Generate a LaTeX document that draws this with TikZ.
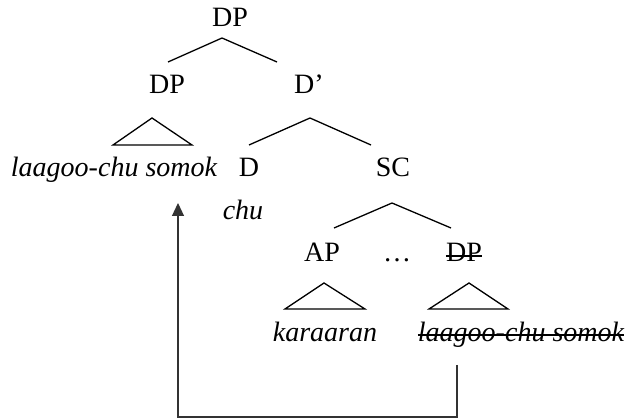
\documentclass[tikz,border=0pt]{standalone}
\usepackage{fontspec}
\setmainfont{Liberation Serif}
\usetikzlibrary{arrows.meta}
\begin{document}
\begin{tikzpicture}[x=1pt,y=-1pt,
  lbl/.style={anchor=base,inner sep=0pt,font=\fontsize{28}{32}\selectfont},
  wrd/.style={lbl,font=\fontsize{28}{32}\selectfont\itshape},
  br/.style={line width=1.3pt,black},
  strike/.style={line width=1.1pt,black},
  mv/.style={line width=1.2pt,black!80,-{Triangle[length=13pt,width=12pt]}}]
\useasboundingbox (0,0) rectangle (627,419);
% labels
\node[lbl] (dp0) at (230,27) {DP};
\node[lbl] (dp1) at (167,94) {DP};
\node[lbl] (dbar) at (309,94) {D’};
\node[wrd] (lcs) at (114,177) {laagoo-chu somok};
\node[lbl] (d) at (249,177) {D};
\node[wrd] (chu) at (243,220) {chu};
\node[lbl] (sc) at (393,177) {SC};
\node[lbl] (ap) at (322,262) {AP};
\node[lbl] (dots) at (397,262) {\dots};
\node[lbl] (dp2) at (464,262) {DP};
\node[wrd] (kar) at (325,342) {karaaran};
\node[wrd] (lcs2) at (521,342) {laagoo-chu somok};
% branch points
\coordinate (a0) at (222,38);
\coordinate (a0l) at (168,62);
\coordinate (a0r) at (277,62);
\coordinate (t1) at (152,118);
\coordinate (t1l) at (113,145);
\coordinate (t1r) at (192,145);
\coordinate (a1) at (310,118);
\coordinate (a1l) at (249,145);
\coordinate (a1r) at (371,145);
\coordinate (a2) at (392,203);
\coordinate (a2l) at (334,228);
\coordinate (a2r) at (451,228);
\coordinate (t2) at (324,283);
\coordinate (t2l) at (285,309);
\coordinate (t2r) at (365,309);
\coordinate (t3) at (469,283);
\coordinate (t3l) at (429,309);
\coordinate (t3r) at (508,309);
\draw[br] (a0l) -- (a0) -- (a0r);
\draw[br] (a1l) -- (a1) -- (a1r);
\draw[br] (a2l) -- (a2) -- (a2r);
\draw[br] (t1l) -- (t1) -- (t1r) -- cycle;
\draw[br] (t2l) -- (t2) -- (t2r) -- cycle;
\draw[br] (t3l) -- (t3) -- (t3r) -- cycle;
% strike-through
\draw[strike] ([yshift=6pt]dp2.base west) -- ([yshift=6pt]dp2.base east);
\draw[strike] ([yshift=7pt]lcs2.base west) -- ([yshift=7pt]lcs2.base east);
% movement arrow
\coordinate (s) at (457,365);
\coordinate (e) at (178,203);
\draw[mv] (s) -- (457,417) -| (e);
\end{tikzpicture}
\end{document}
